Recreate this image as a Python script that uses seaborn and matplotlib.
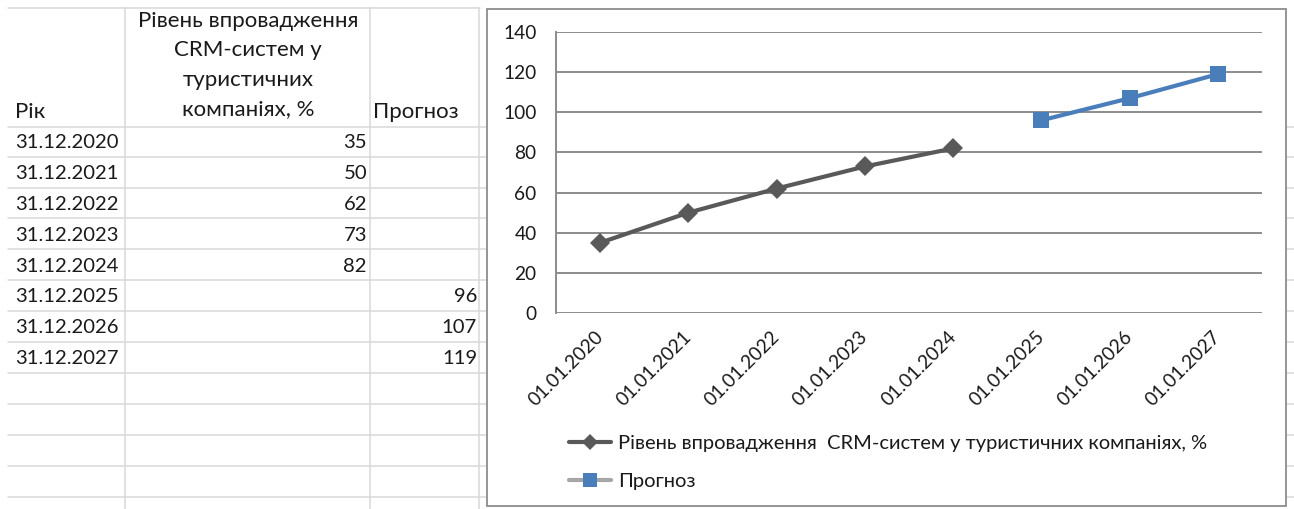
import numpy as np
import pandas as pd
import matplotlib
matplotlib.use("Agg")
import matplotlib.pyplot as plt
from matplotlib.lines import Line2D
from matplotlib.patches import Rectangle
import seaborn as sns

# ---- data ----
row_dates = ["31.12.2020", "31.12.2021", "31.12.2022", "31.12.2023",
             "31.12.2024", "31.12.2025", "31.12.2026", "31.12.2027"]
axis_dates = ["01.01.2020", "01.01.2021", "01.01.2022", "01.01.2023",
              "01.01.2024", "01.01.2025", "01.01.2026", "01.01.2027"]
actual = [35, 50, 62, 73, 82, np.nan, np.nan, np.nan]
forecast = [np.nan, np.nan, np.nan, np.nan, np.nan, 96, 107, 119]

col_year = "Рік"
col_actual_lines = ["Рівень впровадження", "CRM-систем у", "туристичних", "компаніях, %"]
col_forecast = "Прогноз"
series_actual = "Рівень впровадження  CRM-систем у туристичних компаніях, %"
series_forecast = "Прогноз"
y_ticks = [0, 20, 40, 60, 80, 100, 120, 140]

sns.set_theme(style="white")
plt.rcParams["font.family"] = ["Lato", "DejaVu Sans"]

W, H = 1294, 509
fig = plt.figure(figsize=(W / 100, H / 100), dpi=100)
fig.patch.set_facecolor("white")


def fx(px):
    return px / W


def fy(py):
    return 1 - py / H


text_color = "#1a1a1a"
cell_line = "#d9d9d9"

# ---- worksheet grid ----
row_lines = [8, 127, 157, 188, 218, 249, 280, 311, 342, 373, 404, 435, 466, 497]
for i, yl in enumerate(row_lines):
    x_end = 480 if i == 0 else W
    fig.add_artist(Line2D([fx(8), fx(x_end)], [fy(yl), fy(yl)], color=cell_line,
                          lw=1.1, zorder=0))
for xl in [125, 370, 479]:
    fig.add_artist(Line2D([fx(xl), fx(xl)], [fy(8), fy(H)], color=cell_line,
                          lw=1.1, zorder=0))

num_fs = 14.6
word_fs = 16
# header cells
fig.text(fx(15), fy(112), col_year, ha="left", va="center", fontsize=word_fs,
         color=text_color)
for k, line in enumerate(col_actual_lines):
    fig.text(fx(248), fy(21 + 29.5 * k), line, ha="center", va="center",
             fontsize=word_fs, color=text_color)
fig.text(fx(373), fy(112), col_forecast, ha="left", va="center", fontsize=word_fs,
         color=text_color)

# data rows
for i, d in enumerate(row_dates):
    yc = 142.5 + 30.9 * i
    fig.text(fx(15), fy(yc), d, ha="left", va="center", fontsize=num_fs,
             color=text_color)
    if not np.isnan(actual[i]):
        fig.text(fx(367), fy(yc), f"{actual[i]:g}", ha="right", va="center",
                 fontsize=num_fs, color=text_color)
    if not np.isnan(forecast[i]):
        fig.text(fx(477), fy(yc), f"{forecast[i]:g}", ha="right", va="center",
                 fontsize=num_fs, color=text_color)

# ---- chart frame ----
fig.add_artist(Rectangle((fx(487), fy(506)), fx(1286) - fx(487), fy(9) - fy(506),
                         transform=fig.transFigure, facecolor="white",
                         edgecolor="#8c8c8c", lw=1.3, zorder=1))

# ---- chart ----
ax = fig.add_axes([fx(556), fy(313), fx(1262) - fx(556), fy(32) - fy(313)])
ax.set_zorder(2)
ax.set_facecolor("none")

df = pd.DataFrame({
    "date": axis_dates * 2,
    "value": actual + forecast,
    "series": [series_actual] * len(axis_dates) + [series_forecast] * len(axis_dates),
}).dropna()

gray = "#595959"
blue = "#4a7ebb"
sns.lineplot(data=df, x="date", y="value", hue="series", style="series",
             palette={series_actual: gray, series_forecast: blue},
             markers={series_actual: "D", series_forecast: "s"},
             dashes=False, linewidth=3.0, markersize=10, markeredgewidth=0,
             legend=False, ax=ax, sort=False)
for line in ax.lines:
    if line.get_marker() == "s":
        line.set_markersize(11)

ax.set_xlim(-0.5, len(axis_dates) - 0.5)
ax.set_ylim(0, 140)
ax.set_yticks(y_ticks)
ax.set_xticks(range(len(axis_dates)))
ax.set_xticklabels(axis_dates, rotation=45, ha="right", va="center",
                   rotation_mode="anchor")
ax.set_xlabel("")
ax.set_ylabel("")
ax.grid(axis="y", color="#8c8c8c", lw=1.4)
ax.grid(axis="x", visible=False)
ax.set_axisbelow(True)
for s in ["top", "right", "bottom"]:
    ax.spines[s].set_visible(False)
ax.spines["left"].set_color("#8c8c8c")
ax.spines["left"].set_linewidth(1.4)
ax.tick_params(axis="y", length=0, pad=14, labelsize=13.8, labelcolor=text_color)
ax.tick_params(axis="x", length=0, pad=15, labelsize=13.8, labelcolor=text_color)

# ---- legend ----
handles = [
    Line2D([], [], color=gray, lw=3.0, marker="D", markersize=8.5, markeredgewidth=0),
    Line2D([], [], color="#a6a6a6", lw=3.0, marker="s", markersize=10,
           markerfacecolor=blue, markeredgewidth=0),
]
leg = fig.legend(handles, [series_actual, series_forecast], loc="upper left",
                 bbox_to_anchor=(fx(569), fy(435)), frameon=False, fontsize=14.5,
                 handlelength=2.1, handletextpad=0.35, labelspacing=1.05,
                 borderpad=0, borderaxespad=0)
for t in leg.get_texts():
    t.set_color(text_color)
leg.set_zorder(3)

fig.savefig("out.png", dpi=100, facecolor="white")
